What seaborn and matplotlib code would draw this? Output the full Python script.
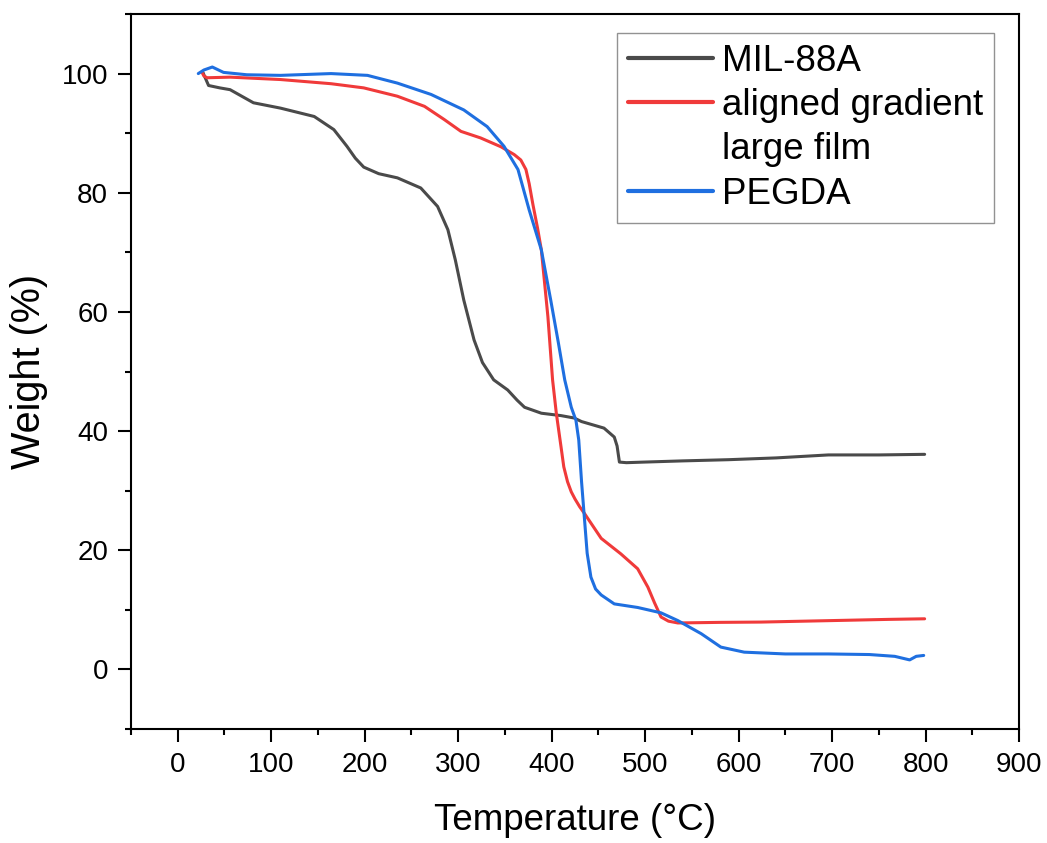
import numpy as np
import pandas as pd
import matplotlib
matplotlib.use("Agg")
import matplotlib.pyplot as plt
from matplotlib.lines import Line2D
from matplotlib.ticker import MultipleLocator
import seaborn as sns

# MIL-88A
mil_T = [27, 28, 33, 45, 56, 81, 110, 146, 167, 181, 190, 199, 215, 235, 260, 278,
         289, 297, 306, 317, 326, 338, 353, 363, 371, 389, 410, 424, 432, 456, 467,
         470, 472.5, 480, 499, 540, 589, 640, 696, 750, 799]
mil_W = [100.2, 99.8, 98.0, 97.6, 97.3, 95.1, 94.2, 92.8, 90.6, 87.8, 85.8, 84.3, 83.2,
         82.5, 80.8, 77.7, 73.8, 68.7, 62.0, 55.3, 51.5, 48.6, 46.9, 45.2, 44.0, 43.0,
         42.6, 42.2, 41.6, 40.5, 39.0, 37.5, 34.8, 34.7, 34.8, 35.0, 35.2, 35.5, 36.0,
         36.0, 36.1]

# aligned gradient large film
agl_T = [26, 28, 31.5, 56, 110, 164, 199, 235, 264, 285, 303, 324, 346, 360, 367,
         372.5, 376, 380, 385, 389, 396, 401, 405, 410, 413, 417, 421, 425, 430, 435,
         453, 474, 492, 503, 510, 517, 525, 535, 580, 624, 700, 760, 799]
agl_W = [100.2, 99.6, 99.3, 99.4, 99.0, 98.3, 97.6, 96.2, 94.5, 92.3, 90.3, 89.2, 87.7,
         86.4, 85.5, 83.9, 81.5, 78.0, 74.0, 70.4, 59.2, 48.6, 43.0, 37.4, 34.0, 31.5,
         29.8, 28.6, 27.3, 26.2, 22.0, 19.4, 16.9, 13.8, 11.2, 8.8, 8.1, 7.8, 7.9, 7.95,
         8.2, 8.4, 8.5]

# PEGDA
peg_T = [22, 28, 37, 49, 74, 110, 164, 203, 235, 271, 306, 331, 349, 364, 376, 389,
         399, 407, 414, 421, 426, 429, 432, 435, 438, 442, 447, 453, 467, 492, 517,
         535, 560, 581, 606, 650, 696, 740, 767, 783, 790, 798]
peg_W = [100.0, 100.6, 101.1, 100.2, 99.8, 99.7, 100.0, 99.7, 98.4, 96.5, 93.9, 91.1,
         87.8, 83.9, 77.1, 70.4, 62.0, 55.0, 48.6, 44.0, 41.8, 38.5, 31.5, 25.5, 19.5,
         15.5, 13.5, 12.5, 11.0, 10.4, 9.5, 8.2, 6.0, 3.75, 2.9, 2.6, 2.6, 2.5, 2.2,
         1.6, 2.2, 2.35]

labels = ["MIL-88A", "aligned gradient", "large film", "PEGDA"]
colors = ["#4a4a4a", "#f03a3a", "#1f6fe0"]

sns.set_theme(style="ticks")
plt.rcParams["font.family"] = ["Liberation Sans", "DejaVu Sans"]
plt.rcParams["text.color"] = "black"
plt.rcParams["axes.labelcolor"] = "black"
plt.rcParams["xtick.color"] = "black"
plt.rcParams["ytick.color"] = "black"

fig = plt.figure(figsize=(10.47, 8.43), dpi=100)
ax = fig.add_axes([0.1251, 0.1352, 0.8482, 0.8482])

sns.lineplot(x=mil_T, y=mil_W, ax=ax, color=colors[0], linewidth=2.2)
sns.lineplot(x=agl_T, y=agl_W, ax=ax, color=colors[1], linewidth=2.2)
sns.lineplot(x=peg_T, y=peg_W, ax=ax, color=colors[2], linewidth=2.2)

ax.set_xlim(-50, 900)
ax.set_ylim(-10, 110)
ax.xaxis.set_major_locator(MultipleLocator(100))
ax.xaxis.set_minor_locator(MultipleLocator(50))
ax.yaxis.set_major_locator(MultipleLocator(20))
ax.yaxis.set_minor_locator(MultipleLocator(10))
ax.tick_params(which="major", length=9.5, width=1.5, labelsize=20, pad=7,
               color="black", labelcolor="black")
ax.tick_params(which="minor", length=4.5, width=1.5, color="black")
for s in ax.spines.values():
    s.set_linewidth(1.5)
    s.set_color("black")

ax.set_xlabel("Temperature (°C)", fontsize=26.5, labelpad=18)
ax.set_ylabel("Weight (%)", fontsize=28.5, labelpad=10)

handles = [Line2D([], [], color=colors[0], linewidth=3),
           Line2D([], [], color=colors[1], linewidth=3),
           Line2D([], [], color="none", linewidth=3),
           Line2D([], [], color=colors[2], linewidth=3)]
leg = ax.legend(handles, labels, loc="upper right", bbox_to_anchor=(0.9718, 0.9734),
                fontsize=26.5, frameon=True, fancybox=False, handlelength=2.3,
                handletextpad=0.25, labelspacing=0.25, borderpad=0.3, borderaxespad=0)
leg.get_frame().set_edgecolor("#777777")
leg.get_frame().set_linewidth(1.0)

fig.savefig("out.png", dpi=100)
